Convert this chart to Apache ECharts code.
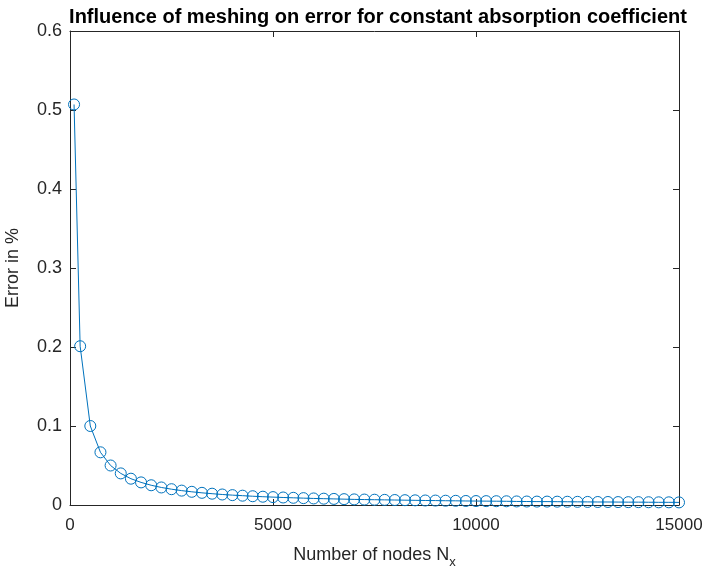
<!DOCTYPE html>
<html>
<head>
<meta charset="utf-8">
<title>Influence of meshing on error</title>
<script src="https://cdn.jsdelivr.net/npm/echarts@6/dist/echarts.min.js"></script>
<style>
  html, body { margin: 0; padding: 0; background: #fff; }
  #chart { width: 704px; height: 572px; }
</style>
</head>
<body>
<div id="chart"></div>
<script>
// Number of mesh nodes used in each run
const nodes = [
  100, 250, 500, 750, 1000, 1250, 1500, 1750, 2000, 2250,
  2500, 2750, 3000, 3250, 3500, 3750, 4000, 4250, 4500, 4750,
  5000, 5250, 5500, 5750, 6000, 6250, 6500, 6750, 7000, 7250,
  7500, 7750, 8000, 8250, 8500, 8750, 9000, 9250, 9500, 9750,
  10000, 10250, 10500, 10750, 11000, 11250, 11500, 11750, 12000, 12250,
  12500, 12750, 13000, 13250, 13500, 13750, 14000, 14250, 14500, 14750,
  15000
];

// Relative error (%) measured for each mesh
const errors = [
  0.507, 0.201, 0.100, 0.0667, 0.0500, 0.0400, 0.0333, 0.0286, 0.0250, 0.0222,
  0.0200, 0.0182, 0.0167, 0.0154, 0.0143, 0.0133, 0.0125, 0.0118, 0.0111, 0.0105,
  0.0100, 0.0095, 0.0091, 0.0087, 0.0083, 0.0080, 0.0077, 0.0074, 0.0071, 0.0069,
  0.0067, 0.0065, 0.0063, 0.0061, 0.0059, 0.0057, 0.0056, 0.0054, 0.0053, 0.0051,
  0.0050, 0.0049, 0.0048, 0.0047, 0.0045, 0.0044, 0.0043, 0.0043, 0.0042, 0.0041,
  0.0040, 0.0039, 0.0038, 0.0038, 0.0037, 0.0036, 0.0036, 0.0035, 0.0034, 0.0034,
  0.0033
];

// Axis tick positions
const xTicks = [0, 5000, 10000, 15000];
const yTicks = [0, 0.1, 0.2, 0.3, 0.4, 0.5, 0.6];

const titleText = 'Influence of meshing on error for constant absorption coefficient';
const xName = 'Number of nodes N{sub|x}';
const yName = 'Error in %';

const FONT = '"Liberation Sans", Arial, Helvetica, sans-serif';
const INK = '#262626';
const LINE = '#0072BD';

const chart = echarts.init(document.getElementById('chart'), null, { renderer: 'canvas' });

const xMin = xTicks[0], xMax = xTicks[xTicks.length - 1], xStep = xTicks[1] - xTicks[0];
const yMin = yTicks[0], yMax = yTicks[yTicks.length - 1], yStep = yTicks[1] - yTicks[0];

const tickStyle = { inside: true, length: 6, lineStyle: { color: INK, width: 1 } };
const lineStyleAxis = { show: true, onZero: false, lineStyle: { color: INK, width: 1 } };

chart.setOption({
  animation: false,
  backgroundColor: '#ffffff',
  title: {
    text: titleText,
    left: 373,
    top: 2,
    textAlign: 'center',
    textStyle: { fontFamily: FONT, fontSize: 20, fontWeight: 'bold', color: '#000000' }
  },
  grid: { left: 70, right: 25, top: 31, bottom: 67, containLabel: false, outerBoundsMode: 'none' },
  xAxis: [
    {
      type: 'value', min: xMin, max: xMax, interval: xStep,
      position: 'bottom',
      name: xName, nameLocation: 'middle', nameGap: 37,
      nameTextStyle: {
        fontFamily: FONT, fontSize: 18, color: INK,
        rich: { sub: { fontFamily: FONT, fontSize: 13, color: INK, padding: [14, 0, 0, 0] } }
      },
      axisLine: lineStyleAxis,
      axisTick: tickStyle,
      axisLabel: { fontFamily: FONT, fontSize: 17, color: INK, margin: 12,
        formatter: v => String(v) },
      splitLine: { show: false }
    },
    {
      type: 'value', min: xMin, max: xMax, interval: xStep,
      position: 'top',
      axisLine: lineStyleAxis,
      axisTick: tickStyle,
      axisLabel: { show: false },
      splitLine: { show: false }
    }
  ],
  yAxis: [
    {
      type: 'value', min: yMin, max: yMax, interval: yStep,
      position: 'left',
      name: yName, nameLocation: 'middle', nameGap: 48, nameRotate: 90,
      nameTextStyle: { fontFamily: FONT, fontSize: 18, color: INK },
      axisLine: lineStyleAxis,
      axisTick: tickStyle,
      axisLabel: { fontFamily: FONT, fontSize: 18, color: INK, margin: 8,
        formatter: v => String(Math.round(v * 10) / 10) },
      splitLine: { show: false }
    },
    {
      type: 'value', min: yMin, max: yMax, interval: yStep,
      position: 'right',
      axisLine: lineStyleAxis,
      axisTick: tickStyle,
      axisLabel: { show: false },
      splitLine: { show: false }
    }
  ],
  series: [
    {
      type: 'line',
      xAxisIndex: 0,
      yAxisIndex: 0,
      data: nodes.map((n, i) => [n, errors[i]]),
      symbol: 'circle',
      symbolSize: 11,
      showAllSymbol: true,
      clip: false,
      lineStyle: { color: LINE, width: 1 },
      itemStyle: { color: 'rgba(0,0,0,0)', borderColor: LINE, borderWidth: 1 }
    }
  ]
});
</script>
</body>
</html>
